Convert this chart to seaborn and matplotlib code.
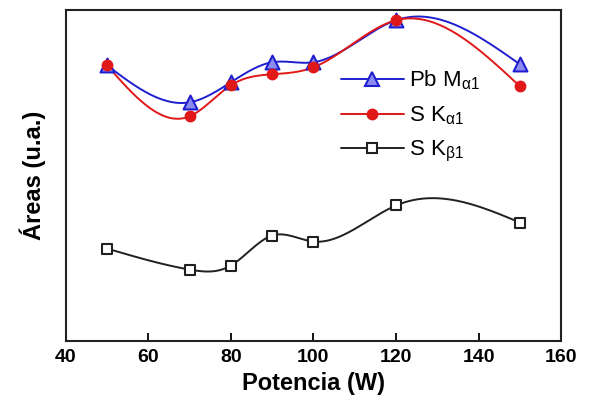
import numpy as np
import pandas as pd
import matplotlib
matplotlib.use("Agg")
import matplotlib.pyplot as plt
import seaborn as sns
from matplotlib.lines import Line2D

potencia = [50, 70, 80, 90, 100, 120, 150]
pb_ma1 = [275, 238, 258, 278, 278, 320, 276]
s_ka1 = [275, 224, 255, 266, 273, 320, 254]
s_kb1 = [92, 71, 75, 105, 99, 135, 118]
x_ticks = [40, 60, 80, 100, 120, 140, 160]
labels = ["Pb M$_{\\alpha 1}$", "S K$_{\\alpha 1}$", "S K$_{\\beta 1}$"]


def natural_spline(x, y, xs):
    x = np.asarray(x, float); y = np.asarray(y, float)
    n = len(x)
    h = np.diff(x)
    A = np.zeros((n, n)); b = np.zeros(n)
    A[0, 0] = 1; A[-1, -1] = 1
    for i in range(1, n - 1):
        A[i, i - 1] = h[i - 1]
        A[i, i] = 2 * (h[i - 1] + h[i])
        A[i, i + 1] = h[i]
        b[i] = 3 * ((y[i + 1] - y[i]) / h[i] - (y[i] - y[i - 1]) / h[i - 1])
    c = np.linalg.solve(A, b)
    out = np.empty_like(xs)
    for k, xv in enumerate(xs):
        i = min(max(np.searchsorted(x, xv) - 1, 0), n - 2)
        dx = xv - x[i]
        bi = (y[i + 1] - y[i]) / h[i] - h[i] * (2 * c[i] + c[i + 1]) / 3
        di = (c[i + 1] - c[i]) / (3 * h[i])
        out[k] = y[i] + bi * dx + c[i] * dx ** 2 + di * dx ** 3
    return out


sns.set_theme(style="ticks")
plt.rcParams["font.family"] = ["Liberation Sans", "DejaVu Sans"]
plt.rcParams["mathtext.fontset"] = "custom"
plt.rcParams["mathtext.rm"] = "Liberation Sans"
plt.rcParams["mathtext.it"] = "Liberation Sans"
plt.rcParams["text.color"] = "black"
plt.rcParams["axes.labelcolor"] = "black"
plt.rcParams["xtick.color"] = "black"

fig, ax = plt.subplots(figsize=(5.97, 4.08), dpi=100)
fig.subplots_adjust(left=0.11, right=0.94, top=0.975, bottom=0.165)

xs = np.linspace(50, 150, 400)
series = [
    (pb_ma1, "#1f1fd0", "^", "#8c8cf0", "#1f1fd0", 10),
    (s_ka1, "#e01818", "o", "#e01818", "#e01818", 7),
    (s_kb1, "#202020", "s", "white", "#202020", 7),
]
handles = []
for (vals, col, mk, fc, ec, ms), lab in zip(series, labels):
    smooth = pd.DataFrame({"x": xs, "y": natural_spline(potencia, vals, xs)})
    sns.lineplot(data=smooth, x="x", y="y", ax=ax, color=col, lw=1.4)
    pts = pd.DataFrame({"x": potencia, "y": vals})
    sns.scatterplot(data=pts, x="x", y="y", ax=ax, marker=mk, s=ms ** 2,
                    facecolor=fc, edgecolor=ec, linewidth=1.5, zorder=5)
    handles.append(Line2D([], [], color=col, lw=1.4, marker=mk, markersize=ms,
                          markerfacecolor=fc, markeredgecolor=ec, markeredgewidth=1.5))

ax.set_xlim(40, 160)
ax.set_ylim(0, 330)
ax.set_xticks(x_ticks)
ax.set_yticks([])
ax.tick_params(axis="x", direction="in", length=6, width=1.3, labelsize=14, pad=6)
for lbl in ax.get_xticklabels():
    lbl.set_fontweight("bold")
for s in ax.spines.values():
    s.set_visible(True)
    s.set_linewidth(1.5)
    s.set_color("#222222")
ax.set_xlabel("Potencia (W)", fontsize=17, fontweight="bold", labelpad=4)
ax.set_ylabel("Áreas (u.a.)", fontsize=17, fontweight="bold", labelpad=14)

leg = ax.legend(handles, labels, loc="upper left", bbox_to_anchor=(0.525, 0.87),
                frameon=False, fontsize=16, handlelength=2.8, handletextpad=0.25,
                labelspacing=0.55, borderpad=0.2)

fig.savefig("out.png", dpi=100)
